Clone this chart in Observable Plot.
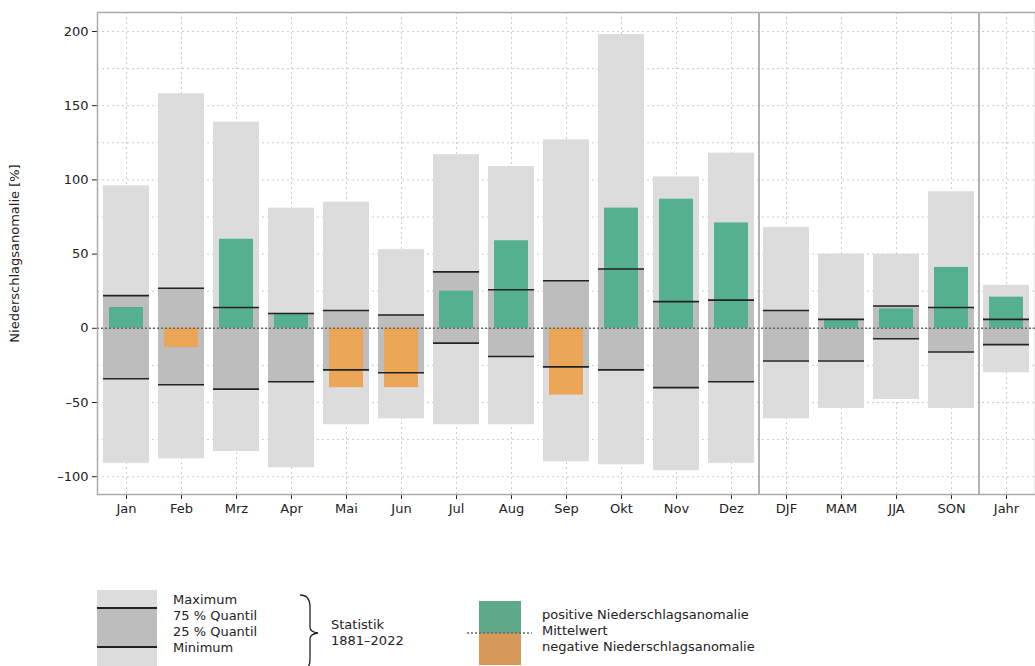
<!DOCTYPE html>
<html><head><meta charset="utf-8">
<script src="https://cdn.jsdelivr.net/npm/d3@7"></script>
<script src="https://cdn.jsdelivr.net/npm/@observablehq/plot@0.6"></script>
<style>body{margin:0;font-family:"DejaVu Sans",sans-serif;background:#fff}
#leg{position:relative;height:139px;font-size:13px;color:#222}
#leg div.t{position:absolute;line-height:16px}
</style></head><body>
<div id="chart"></div>
<div id="leg">
<svg width="1035" height="139" style="position:absolute;left:0;top:0">
<rect x="97" y="63" width="60" height="76" fill="#dcdcdc"/>
<rect x="97" y="81" width="60" height="39" fill="#bdbdbd"/>
<line x1="97" x2="157" y1="81" y2="81" stroke="#222" stroke-width="2"/>
<line x1="97" x2="157" y1="120" y2="120" stroke="#222" stroke-width="2"/>
<path d="M300,68 q10,0 10,12 v20 q0,5 8,6 q-8,1 -8,6 v20 q0,12 -10,12" fill="none" stroke="#222" stroke-width="1.3"/>
<rect x="479" y="74" width="42" height="32" fill="#5fa98a"/>
<rect x="479" y="106" width="42" height="32" fill="#d6995a"/>
<line x1="467" x2="532" y1="106" y2="106" stroke="#666" stroke-dasharray="2,2" stroke-width="1.5"/>
</svg>
<div class="t" style="left:173px;top:65px">Maximum<br>75 % Quantil<br>25 % Quantil<br>Minimum</div>
<div class="t" style="left:331px;top:90px">Statistik<br>1881–2022</div>
<div class="t" style="left:542px;top:80px">positive Niederschlagsanomalie<br>Mittelwert<br>negative Niederschlagsanomalie</div>
</div>
<script>
const cats=["Jan","Feb","Mrz","Apr","Mai","Jun","Jul","Aug","Sep","Okt","Nov","Dez","DJF","MAM","JJA","SON","Jahr"];
const maxV=[96,158,139,81,85,53,117,109,127,198,102,118,68,50,50,92,29];
const q75=[22,27,14,10,12,9,38,26,32,40,18,19,12,6,15,14,6];
const q25=[-34,-38,-41,-36,-28,-30,-10,-19,-26,-28,-40,-36,-22,-22,-7,-16,-11];
const minV=[-91,-88,-83,-94,-65,-61,-65,-65,-90,-92,-96,-91,-61,-54,-48,-54,-30];
const anom=[14,-13,60,10,-40,-40,25,59,-45,81,87,71,null,6,13,41,21];
const data=cats.map((c,i)=>({c,max:maxV[i],q75:q75[i],q25:q25[i],min:minV[i],a:anom[i]}));
const ad=data.filter(d=>d.a!=null);
const p=Plot.plot({width:1035,height:527,marginLeft:97,marginRight:0,marginTop:12,marginBottom:33,
 style:{fontFamily:"DejaVu Sans",fontSize:"13px",color:"#222"},
 x:{domain:cats,paddingInner:0.16,paddingOuter:0.1,label:null,tickSize:5},
 y:{domain:[-112,212.8],label:"Niederschlagsanomalie [%]",ticks:[-100,-50,0,50,100,150,200],tickFormat:d=>d<0?"–"+(-d):d,tickSize:5,labelAnchor:"center",labelArrow:"none",labelOffset:88},
 marks:[
  Plot.ruleY(d3.range(-100,201,25),{stroke:"#ccc",strokeDasharray:"2,3"}),
  Plot.ruleX(cats,{x:d=>d,stroke:"#ccc",strokeDasharray:"2,3"}),
  Plot.barY(data,{x:"c",y1:"min",y2:"max",fill:"#dcdcdc"}),
  Plot.barY(data,{x:"c",y1:"q25",y2:"q75",fill:"#bdbdbd"}),
  Plot.barY(ad,{x:"c",y1:0,y2:"a",fill:d=>d.a>=0?"#55b08f":"#eaa656",insetLeft:6,insetRight:6}),
  Plot.tickY(data,{x:"c",y:"q75",stroke:"#222",strokeWidth:1.6}),
  Plot.tickY(data,{x:"c",y:"q25",stroke:"#222",strokeWidth:1.6}),
  Plot.ruleY([0],{stroke:"#666",strokeDasharray:"2,2",strokeWidth:1.5}),
  Plot.ruleX(["DJF","Jahr"],{x:d=>d,dx:-27.5,stroke:"#999",strokeWidth:1.5}),
  Plot.frame({stroke:"#aaa",strokeWidth:1.5})
 ]});
document.getElementById("chart").appendChild(p);
</script></body></html>
